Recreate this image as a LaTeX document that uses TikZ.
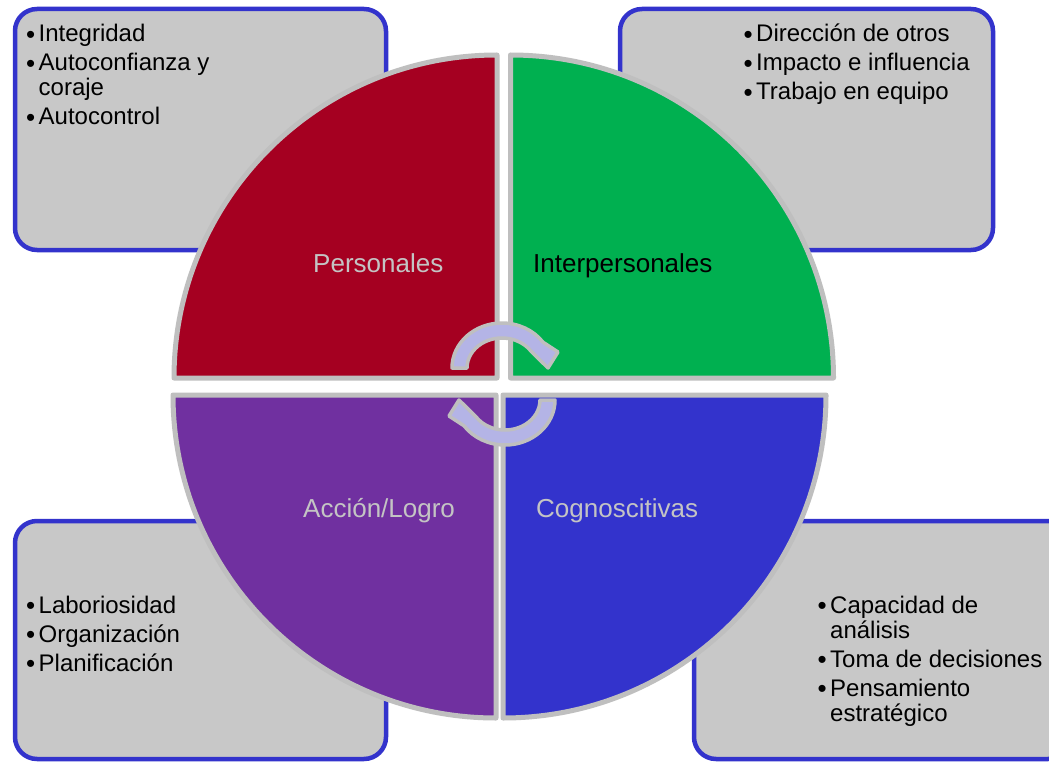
\documentclass[tikz,border=0pt]{standalone}
\usepackage{fontspec}
\setmainfont{Liberation Sans}
\definecolor{qred}{HTML}{A50021}
\definecolor{qgreen}{HTML}{00B050}
\definecolor{qpurple}{HTML}{7030A0}
\definecolor{qblue}{HTML}{3333CC}
\definecolor{qgray}{HTML}{BFBFBF}
\definecolor{boxgray}{HTML}{C8C8C8}
\definecolor{lblgray}{HTML}{C4C4C4}
\definecolor{arrowfill}{HTML}{B4B4E6}
\newcommand{\itembul}{\makebox[11.5pt][l]{\hspace{-1pt}\raisebox{-1.5pt}{\fontsize{26}{26}\selectfont\textbullet}}}
\tikzset{
  quad/.style={draw=qgray, line width=5pt, line join=round},
  infobox/.style={draw=qblue, fill=boxgray, line width=4.5pt, rounded corners=22pt},
  lbl/.style={anchor=base west, inner sep=0pt, font=\fontsize{26}{31}\selectfont, text=lblgray},
  items/.style={anchor=base west, inner sep=0pt, font=\fontsize{24}{25}\selectfont},
  cyc/.style={fill=arrowfill, draw=qgray, line width=3.5pt, line join=round},
}
\begin{document}
\begin{tikzpicture}[x=1pt, y=-1pt]
\fill[white] (0,0) rectangle (1049,762);
\clip (0,0) rectangle (1049,762);

% info boxes
\path[infobox] (15,9) rectangle (386,250);
\path[infobox] (620,9) rectangle (993,250);
\path[infobox] (15,521) rectangle (386,759);
\path[infobox] (694,521) rectangle (1070,759);

% quadrants
\path[quad, fill=qred] (497,378) -- (174,378) arc[start angle=180, end angle=270, radius=323] -- cycle;
\path[quad, fill=qgreen] (510.5,378) -- (510.5,55) arc[start angle=270, end angle=360, radius=323] -- cycle;
\path[quad, fill=qpurple] (496,395) -- (496,718) arc[start angle=90, end angle=180, radius=323] -- cycle;
\path[quad, fill=qblue] (503,395) -- (826,395) arc[start angle=0, end angle=90, radius=323] -- cycle;

% quadrant labels
\node[lbl] (personales) at (313,272) {Personales};
\node[lbl, text=black] (interpersonales) at (533,272) {Interpersonales};
\node[lbl] (accion) at (303,517) {Acción/Logro};
\node[lbl] (cognos) at (536,517) {Cognoscitivas};

% circular arrows
\begin{scope}[shift={(502,368)}]
\path[cyc] (180:50 and 45) arc[start angle=180, end angle=325, x radius=50, y radius=45]
  -- (56,-16) -- (46,0) -- (325:35 and 30)
  arc[start angle=325, end angle=180, x radius=35, y radius=30] -- cycle;
\end{scope}
\begin{scope}[shift={(505,400)}, rotate=180]
\path[cyc] (180:50 and 45) arc[start angle=180, end angle=325, x radius=50, y radius=45]
  -- (56,-16) -- (46,0) -- (325:35 and 30)
  arc[start angle=325, end angle=180, x radius=35, y radius=30] -- cycle;
\end{scope}

% box texts
\node[items] (tltext) at (27,42) {\begin{tabular}[t]{@{}l@{}l@{}}
\itembul & Integridad\\[4pt]
\itembul & Autoconfianza y\\
 & coraje\\[4pt]
\itembul & Autocontrol
\end{tabular}};
\node[items] (trtext) at (744.5,42) {\begin{tabular}[t]{@{}l@{}l@{}}
\itembul & Dirección de otros\\[4pt]
\itembul & Impacto e influencia\\[4pt]
\itembul & Trabajo en equipo
\end{tabular}};
\node[items] (bltext) at (27,613) {\begin{tabular}[t]{@{}l@{}l@{}}
\itembul & Laboriosidad\\[4pt]
\itembul & Organización\\[4pt]
\itembul & Planificación
\end{tabular}};
\node[items] (brtext) at (818.5,613) {\begin{tabular}[t]{@{}l@{}l@{}}
\itembul & Capacidad de\\
 & análisis\\[4pt]
\itembul & Toma de decisiones\\[4pt]
\itembul & Pensamiento\\
 & estratégico
\end{tabular}};
\end{tikzpicture}
\end{document}
